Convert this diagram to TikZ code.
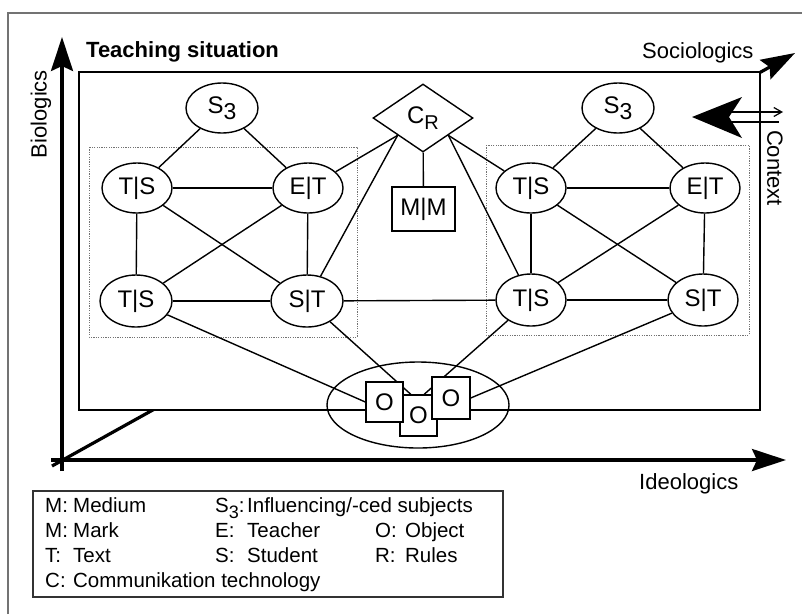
\documentclass[tikz,border=0pt]{standalone}
\usepackage{fontspec}
\setmainfont{Liberation Sans}
\usetikzlibrary{shapes.geometric,arrows.meta}
\begin{document}
\begin{tikzpicture}[x=1pt,y=-1pt,
  every node/.style={inner sep=0pt},
  actor/.style={ellipse,draw,fill=white,line width=1.4pt,minimum width=70pt,minimum height=50pt,font=\fontsize{24}{26}\selectfont},
  objbox/.style={rectangle,draw,fill=white,line width=1.4pt,minimum width=37pt,minimum height=41pt,font=\fontsize{24}{26}\selectfont},
  link/.style={line width=1.4pt},
  groupframe/.style={draw=black!55,line width=0.9pt,dash pattern=on 1.2pt off 1.2pt},
  bigaxis/.style={line width=3.2pt,-{Stealth[length=34pt,width=22pt,inset=5pt]}},
  axislabel/.style={font=\fontsize{22}{24}\selectfont},
  legendrow/.style={anchor=base west,font=\fontsize{20.5}{24}\selectfont}
]
\useasboundingbox (0,0) rectangle (802,614);

% outer frame, open towards the right and the bottom
\draw[black!55,line width=1.8pt] (8,614) -- (8,13) -- (802,13);

% the three axes
\coordinate (origin) at (62,460);
\coordinate (socStart) at (52,466);
\coordinate (socEnd) at (795,53);
\coordinate (bioStart) at (62,471);
\coordinate (bioEnd) at (62,37);
\coordinate (ideoStart) at (51,460);
\coordinate (ideoEnd) at (786,460);

\draw[bigaxis] (socStart) -- (socEnd);

% teaching situation plane (hides the middle of the sociologics axis)
\draw[fill=white,line width=1.5pt] (79,72) rectangle (760,410);

\draw[bigaxis] (bioStart) -- (bioEnd);
\draw[bigaxis] (ideoStart) -- (ideoEnd);

% axis labels and title
\node[font=\fontsize{22}{24}\selectfont\bfseries,anchor=base west] (title) at (86,57) {Teaching situation};
\node[axislabel,anchor=base west] (soc) at (642,58) {Sociologics};
\node[axislabel,rotate=90] (bio) at (41,114) {Biologics};
\node[axislabel,rotate=-90] (ctx) at (775,168) {Context};
\node[axislabel,anchor=base west] (ideo) at (639,489) {Ideologics};

% context exchange arrow
\fill (692,117) -- (742,97) -- (729,117) -- (742,138) -- cycle;
\coordinate (ctxA) at (731,112);
\coordinate (ctxB) at (783,112);
\coordinate (ctxC) at (731,122);
\coordinate (ctxD) at (779,122);
\draw[line width=1.2pt,-{Straight Barb[length=8pt,width=9pt]}] (ctxA) -- (ctxB);
\draw[line width=1.2pt] (ctxC) -- (ctxD);

% dotted groups
\draw[groupframe] (89,147) rectangle (357,337);
\draw[groupframe] (486,145) rectangle (749,335);

% left group
\node[actor,minimum width=72pt] (S3L) at (222,108) {S\raisebox{-6pt}{\fontsize{23}{23}\selectfont 3}};
\node[actor] (TtL) at (137,188) {T|S};
\node[actor] (EtL) at (308,188) {E|T};
\node[actor,minimum width=72pt,minimum height=52pt] (TbL) at (136,301) {T|S};
\node[actor,minimum width=72pt,minimum height=52pt] (SbL) at (307,301) {S|T};

% right group
\node[actor,minimum width=72pt] (S3R) at (618,108) {S\raisebox{-6pt}{\fontsize{23}{23}\selectfont 3}};
\node[actor] (TtR) at (531,188) {T|S};
\node[actor] (EtR) at (705,188) {E|T};
\node[actor,minimum height=52pt] (TbR) at (531,300) {T|S};
\node[actor,minimum height=52pt] (SbR) at (703,300) {S|T};

% communication technology and medium
\node[diamond,draw,fill=white,line width=1.4pt,minimum width=100pt,minimum height=68pt,shape aspect=1.47,font=\fontsize{24}{26}\selectfont] (CR) at (423,118) {C\raisebox{-6pt}{\fontsize{20}{20}\selectfont R}};
\node[rectangle,draw,fill=white,line width=1.4pt,minimum width=63pt,minimum height=44pt,font=\fontsize{24}{26}\selectfont] (MM) at (423.5,209) {M|M};

% objects
\node[ellipse,draw,line width=1.4pt,minimum width=182pt,minimum height=86pt] (objs) at (418,405) {};
\node[objbox] (O2) at (418.5,415.5) {O};

% connectors
\draw[link] (S3L) -- (TtL);
\draw[link] (S3L) -- (EtL);
\draw[link] (TtL) -- (EtL);
\draw[link] (TtL) -- (TbL);
\draw[link] (EtL) -- (SbL);
\draw[link] (TtL) -- (SbL);
\draw[link] (EtL) -- (TbL);
\draw[link] (TbL) -- (SbL);

\draw[link] (S3R) -- (TtR);
\draw[link] (S3R) -- (EtR);
\draw[link] (TtR) -- (EtR);
\draw[link] (TtR) -- (TbR);
\draw[link] (EtR) -- (SbR);
\draw[link] (TtR) -- (SbR);
\draw[link] (EtR) -- (TbR);
\draw[link] (TbR) -- (SbR);

\draw[link] (SbL) -- (TbR);
\draw[link] (CR.south west) -- (EtL);
\draw[link] (CR.south west) -- (SbL);
\draw[link] (CR.south east) -- (TtR);
\draw[link] (CR.south east) -- (TbR);
\draw[link] (CR) -- (MM);

\draw[link] (SbL) -- (O2.110);
\draw[link] (TbR) -- (O2.75);

\node[objbox,minimum height=40pt] (O1) at (384.5,402) {O};
\node[objbox,minimum width=38pt,minimum height=42pt] (O3) at (451,398) {O};

\draw[link] (TbL) -- (O1.west);
\draw[link] (SbR) -- (O3.east);

% legend
\draw[draw=black!80,line width=1.5pt] (33,491) rectangle (503,597);
\node[legendrow] (lg1) at (45,512) {\makebox[28pt][l]{M:}\makebox[142pt][l]{Medium}\makebox[32pt][l]{S\raisebox{-6pt}{\fontsize{18}{18}\selectfont 3}:}Influencing/-ced subjects};
\node[legendrow] (lg2) at (45,537) {\makebox[28pt][l]{M:}\makebox[142pt][l]{Mark}\makebox[32pt][l]{E:}\makebox[128pt][l]{Teacher}\makebox[30pt][l]{O:}Object};
\node[legendrow] (lg3) at (45,562) {\makebox[28pt][l]{T:}\makebox[142pt][l]{Text}\makebox[32pt][l]{S:}\makebox[128pt][l]{Student}\makebox[30pt][l]{R:}Rules};
\node[legendrow] (lg4) at (45,587) {\makebox[28pt][l]{C:}Communikation technology};
\end{tikzpicture}
\end{document}
